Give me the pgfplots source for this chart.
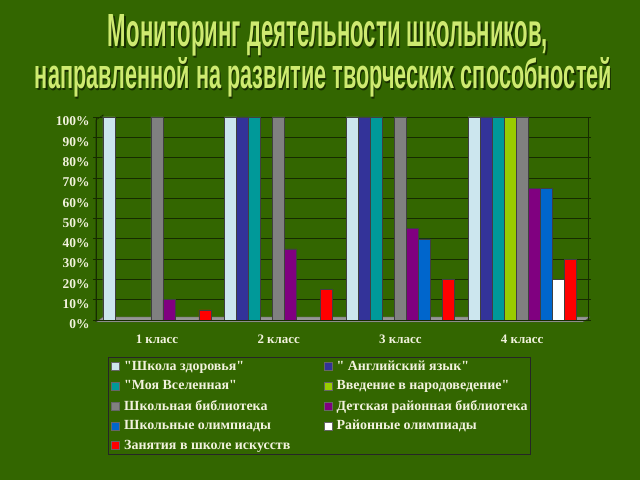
\documentclass[border=0pt]{standalone}
\usepackage{pgfplots}
\pgfplotsset{compat=1.18}
\usepackage{fontspec}
\setmainfont[Ligatures=TeXOff]{Liberation Serif}
\newfontfamily\titlefont{Liberation Sans}

\definecolor{bg}{RGB}{51,102,0}
\definecolor{titlefill}{RGB}{206,234,112}
\definecolor{titleshade}{RGB}{24,48,0}
\definecolor{labeltext}{RGB}{242,242,222}
\definecolor{gridc}{RGB}{22,44,0}
\definecolor{floorc}{RGB}{150,150,150}
\definecolor{cA}{RGB}{204,230,238}
\definecolor{cB}{RGB}{51,51,153}
\definecolor{cC}{RGB}{0,153,153}
\definecolor{cD}{RGB}{153,204,0}
\definecolor{cE}{RGB}{128,128,128}
\definecolor{cF}{RGB}{128,0,128}
\definecolor{cG}{RGB}{0,102,204}
\definecolor{cH}{RGB}{255,255,255}
\definecolor{cI}{RGB}{255,0,0}

\tikzset{cyl/.style={draw=black!75, line width=0.5bp, fill=#1}}

\begin{document}
\begin{tikzpicture}[x=1bp,y=1bp]
\fill[bg] (0,0) rectangle (640,480);
\useasboundingbox (0,0) rectangle (640,480);

% title
\node[anchor=base, inner sep=0pt, text=titleshade] at (329.2,431.8)
  {\resizebox{440bp}{32bp}{\titlefont\bfseries Мониторинг деятельности школьников,}};
\node[anchor=base, inner sep=0pt, text=titlefill] at (328,433)
  {\resizebox{440bp}{32bp}{\titlefont\bfseries Мониторинг деятельности школьников,}};
\node[anchor=base, inner sep=0pt, text=titleshade] at (324.7,389.8)
  {\resizebox{577bp}{31bp}{\titlefont\bfseries направленной на развитие творческих способностей}};
\node[anchor=base, inner sep=0pt, text=titlefill] at (323.5,391)
  {\resizebox{577bp}{31bp}{\titlefont\bfseries направленной на развитие творческих способностей}};

% floor and left wall
\fill[floorc, draw=black!70, line width=0.4bp] (96,158) -- (583,158) -- (590,163) -- (103,163) -- cycle;
\draw[gridc, line width=0.6bp] (96,158) -- (96,360) -- (103,365) -- (103,163);

\begin{axis}[
  at={(96bp,160bp)}, anchor=south west,
  scale only axis, width=492bp, height=203bp,
  xmin=-0.501, xmax=3.541, ymin=0, ymax=100,
  ybar=0pt, bar width=12bp,
  axis line style={draw=gridc, line width=0.6bp},
  ymajorgrids, major grid style={draw=gridc, line width=0.6bp},
  ytick={0,10,...,100},
  yticklabel={\pgfmathprintnumber{\tick}\%},
  /pgf/number format/assume math mode=true,
  yticklabel style={font=\fontsize{13.5}{13.5}\selectfont\bfseries, text=labeltext, yshift=-4.5bp},
  ytick style={draw=gridc, line width=0.6bp},
  tick align=outside, major tick length=3bp,
  xtick={0,1,2,3},
  xticklabels={1 класс,2 класс,3 класс,4 класс},
  xticklabel style={font=\fontsize{13}{13}\selectfont\bfseries, text=labeltext, anchor=north, inner sep=0pt, yshift=-12bp},
  xtick style={draw=none},
  legend columns=2,
  legend cell align=left,
  legend image code/.code={\draw[#1, draw=black!60, line width=0.4bp] (0bp,-4bp) rectangle (8bp,4bp);},
  legend style={at={(0.0244,-0.182)}, anchor=north west, fill=none,
    draw=black!85, line width=0.6bp, text=labeltext,
    font=\fontsize{14}{16}\selectfont\bfseries,
    nodes={inner sep=1.5bp}, row sep=5.8bp,
    /tikz/every odd column/.append style={column sep=3bp},
    /tikz/every even column/.append style={column sep=0pt}},
]
\addplot[cyl=cA] coordinates {(0,100)(1,100)(2,100)(3,100)};
\addlegendentry{\makebox[198bp][l]{"Школа здоровья"}}
\addplot[cyl=cB] coordinates {(1,100)(2,100)(3,100)};
\addlegendentry{\makebox[189bp][l]{" Английский язык"}}
\addplot[cyl=cC] coordinates {(1,100)(2,100)(3,100)};
\addlegendentry{\makebox[198bp][l]{"Моя Вселенная"}}
\addplot[cyl=cD] coordinates {(3,100)};
\addlegendentry{\makebox[189bp][l]{Введение в народоведение"}}
\addplot[cyl=cE] coordinates {(0,100)(1,100)(2,100)(3,100)};
\addlegendentry{\makebox[198bp][l]{Школьная библиотека}}
\addplot[cyl=cF] coordinates {(0,10)(1,35)(2,45)(3,65)};
\addlegendentry{\makebox[189bp][l]{Детская районная библиотека}}
\addplot[cyl=cG] coordinates {(2,40)(3,65)};
\addlegendentry{\makebox[198bp][l]{Школьные олимпиады}}
\addplot[cyl=cH] coordinates {(3,20)};
\addlegendentry{\makebox[189bp][l]{Районные олимпиады}}
\addplot[cyl=cI] coordinates {(0,5)(1,15)(2,20)(3,30)};
\addlegendentry{\makebox[198bp][l]{Занятия в школе искусств}}
\end{axis}
\end{tikzpicture}
\end{document}
